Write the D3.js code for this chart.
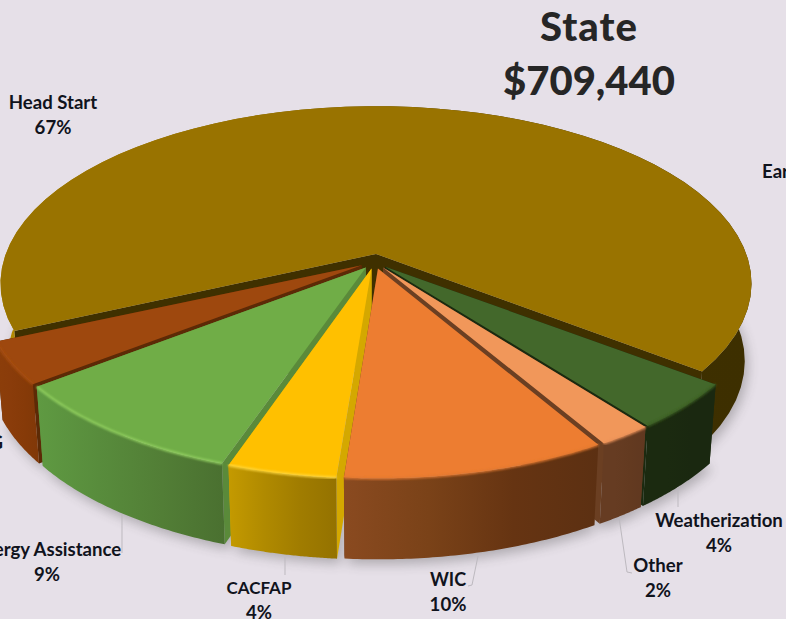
<!DOCTYPE html>
<html><head><meta charset="utf-8">
<script src="https://cdnjs.cloudflare.com/ajax/libs/d3/7.8.5/d3.min.js"></script>
<style>html,body{margin:0;padding:0;background:#e6e0e8;overflow:hidden}svg{display:block}</style>
</head><body><svg id="c" width="786" height="619"></svg>
<script>
// ---- data ----
const categories = ["Head Start","Weatherization","Other","WIC","CACFAP","Energy Assistance","CSBG"];
const values = [67,4.2,2,9.7,4,9.3,3.8];
const titleLines = ["State","$709,440"];
const extraLabel = "Early Head Start";
// ---- palette ----
const topColors  = ["#997300","#43682B","#F1975A","#ED7D31","#FFC000","#70AD47","#9E480E"];
const sideColors = ["#3f3000","#1b2a10","#6b3f22","#6b3f22","#d4a800","#5a8a3a","#5c2a06"];
const wallStops = [
  ["#b58a00","#8a6a00","#3f3000","#3d2f00"],
  ["#1b2a10","#1b2a10","#1a2810","#1a2810"],
  ["#663c22","#663c22","#633a20","#603820"],
  ["#8a4a20","#7a4218","#663412","#5c3012"],
  ["#c49a00","#b08a00","#a07c00","#947200"],
  ["#5f9a42","#588c3c","#527e36","#4a7030"],
  ["#8c3e0a","#8a3c0a","#863a08","#803808"]
];
const rimColors = [null,"#3a5c24","#e89058","#e07830","#ffd840","#92d060","#a84f12"];

// ---- projection (perspective view of the pie's plane) ----
const W=786,H=619,cx=376,cy=256,A=371,B=173,k=0.155;
const explode=0.04, explodeHead=0.033, headApexLift=0.012, zX=0.982, zY=1.018, depth=77;
const xS=d3.scaleLinear().domain([-1,1]).range([-A,A]);
const yS=d3.scaleLinear().domain([-1,1]).range([-B,B]);
function project(u,v,z){
  const d=1-k*v;
  const X=xS(u)/d, Y=yS(v)/d;
  return z? [cx+X*zX, cy+depth+Y*zY] : [cx+X, cy+Y];
}
const pie=d3.pie().sort(null).startAngle(246*Math.PI/180).endAngle((246+360)*Math.PI/180);
const arcs=pie(values);
const line=d3.line();
const svg=d3.select("#c");
svg.append("rect").attr("width",W).attr("height",H).attr("fill","#e6e0e8");
const defs=svg.append("defs");
defs.append("filter").attr("id","blur").attr("x","-20%").attr("y","-20%").attr("width","140%").attr("height","140%")
  .append("feGaussianBlur").attr("stdDeviation",6);
defs.append("filter").attr("id","soft").attr("x","-5%").attr("y","-5%").attr("width","110%").attr("height","110%")
  .append("feGaussianBlur").attr("stdDeviation",0.8);
wallStops.forEach((s,i)=>{
  const g=defs.append("linearGradient").attr("id","w"+i);
  s.forEach((c,j)=>g.append("stop").attr("offset",j/(s.length-1)).attr("stop-color",c));
});
// the true pie centre sits in front of the exploded Head Start apex
const headMid=(arcs[0].startAngle+arcs[0].endAngle)/2;
const baseU=-explodeHead*Math.sin(headMid), baseV=explodeHead*Math.cos(headMid);
const slices=arcs.map((a,i)=>{
  const mid=(a.startAngle+a.endAngle)/2;
  const ox=i===0?0:baseU+explode*Math.sin(mid);
  const oy=i===0?0:baseV-explode*Math.cos(mid);
  const angs=d3.range(0,61).map(t=>a.startAngle+(a.endAngle-a.startAngle)*t/60);
  const pt=(ang,z)=>project(ox+Math.sin(ang),oy-Math.cos(ang),z);
  const lift=i===0?headApexLift:0;
  return {i,
    apexT:project(ox,oy-lift,false),apexB:project(ox,oy-lift,true),
    arcT:angs.map(t=>pt(t,false)),arcB:angs.map(t=>pt(t,true))};
});
// soft shadow
const shadow=svg.append("g").attr("filter","url(#blur)").attr("opacity",0.3).attr("transform","translate(3,5)");
slices.forEach(s=>shadow.append("path").attr("d",line([s.apexB,...s.arcB])+"Z").attr("fill","#333"));
// painter's order: back to front
const order=[0,6,1,2,5,4,3];
order.forEach(idx=>{
  const s=slices[idx], g=svg.append("g");
  const aT=s.arcT, aB=s.arcB, n=aT.length-1;
  g.append("path").attr("d",line([s.apexT,aT[0],aB[0],s.apexB])+"Z").attr("fill",sideColors[idx]);
  g.append("path").attr("d",line([s.apexT,aT[n],aB[n],s.apexB])+"Z").attr("fill",sideColors[idx]);
  g.append("path").attr("d",line([...aT,...aB.slice().reverse()])+"Z").attr("fill","url(#w"+idx+")");
  g.append("path").attr("d",line([s.apexT,...aT])+"Z").attr("fill",topColors[idx]);
  if(rimColors[idx]) g.append("path").attr("d",line(aT)).attr("fill","none").attr("stroke",rimColors[idx])
    .attr("stroke-width",2.2).attr("filter","url(#soft)");
});
// leader lines
const leaderData=[
  [[122,514],[122,553]],
  [[285,557],[285,575]],
  [[478,556],[472,585],[468,586]],
  [[619,517],[627,572],[632,573]],
  [[678,487],[678,507]]
];
svg.selectAll(".ld").data(leaderData).join("path").attr("class","ld")
  .attr("d",d=>line(d)).attr("fill","none").attr("stroke","#bdb9bf").attr("stroke-width",1);
// labels
const labelPos={ "Head Start":[53,103],"Weatherization":[719,521],"Other":[658,566],"WIC":[448,580],
  "CACFAP":[259,588],"Energy Assistance":[47,550],"CSBG":[-21,443]};
const labelSize={"CACFAP":17,"WIC":18};
const lf="Lato, Carlito, sans-serif";
const fmt=d3.format(".0f");
categories.forEach((c,i)=>{
  const p=labelPos[c];
  const t=svg.append("text").attr("text-anchor","middle").attr("font-family",lf).attr("font-weight",700)
    .attr("font-size",18.6).attr("fill","#10131c");
  t.append("tspan").attr("x",p[0]).attr("y",p[1]+6).attr("font-size",labelSize[c]||18.6).text(c);
  t.append("tspan").attr("x",p[0]).attr("y",p[1]+31).text(fmt(values[i])+"%");
});
svg.append("text").attr("x",762).attr("y",178).attr("font-family",lf).attr("font-weight",700)
  .attr("font-size",18.6).attr("fill","#10131c").text(extraLabel);
// title
titleLines.forEach((t,i)=>{
  svg.append("text").attr("x",589).attr("y",i?95:41).attr("text-anchor","middle")
    .attr("font-family","Lato, sans-serif").attr("font-weight",900).attr("font-size",40)
    .attr("letter-spacing",i?0:1).attr("fill","#262626").text(t);
});
</script></body></html>
